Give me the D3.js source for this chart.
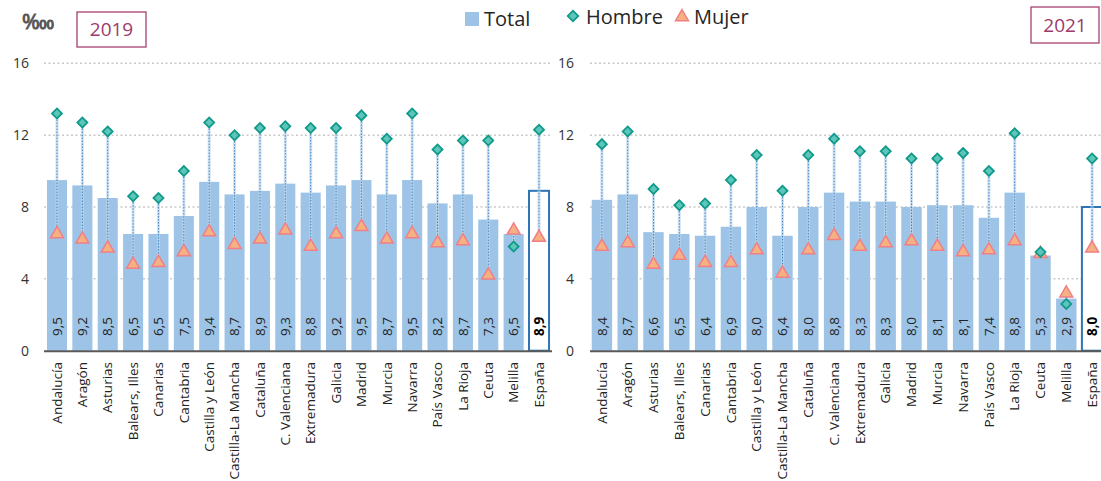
<!DOCTYPE html>
<html><head><meta charset="utf-8">
<script src="https://cdn.jsdelivr.net/npm/d3@7"></script>
<style>body{margin:0;background:#fff}svg{display:block;font-family:"Open Sans",sans-serif}</style>
</head><body>
<svg id="c" width="1101" height="481"></svg>
<script>
const categories = ["Andalucía","Aragón","Asturias","Balears, Illes","Canarias","Cantabria","Castilla y León","Castilla-La Mancha","Cataluña","C. Valenciana","Extremadura","Galicia","Madrid","Murcia","Navarra","País Vasco","La Rioja","Ceuta","Melilla","España"];
const total2019 = [9.5,9.2,8.5,6.5,6.5,7.5,9.4,8.7,8.9,9.3,8.8,9.2,9.5,8.7,9.5,8.2,8.7,7.3,6.5,8.9];
const hombre2019 = [13.2,12.7,12.2,8.6,8.5,10.0,12.7,12.0,12.4,12.5,12.4,12.4,13.1,11.8,13.2,11.2,11.7,11.7,5.8,12.3];
const mujer2019 = [6.5,6.2,5.7,4.8,4.9,5.5,6.6,5.9,6.2,6.7,5.8,6.5,6.9,6.2,6.5,6.0,6.1,4.2,6.7,6.3];
const total2021 = [8.4,8.7,6.6,6.5,6.4,6.9,8.0,6.4,8.0,8.8,8.3,8.3,8.0,8.1,8.1,7.4,8.8,5.3,2.9,8.0];
const hombre2021 = [11.5,12.2,9.0,8.1,8.2,9.5,10.9,8.9,10.9,11.8,11.1,11.1,10.7,10.7,11.0,10.0,12.1,5.5,2.6,10.7];
const mujer2021 = [5.8,6.0,4.8,5.3,4.9,4.9,5.6,4.3,5.6,6.4,5.8,6.0,6.1,5.8,5.5,5.6,6.1,5.4,3.2,5.7];
const yTicks = [0,4,8,12,16];
const years = ["2019","2021"];
const seriesNames = ["Total","Hombre","Mujer"];

const svg = d3.select("#c");
const BAR = "#9dc3e6", HOM_F = "#5cc6b8", HOM_S = "#0f9a8c", MUJ_F = "#f6b183", MUJ_S = "#f07f86";
const y = d3.scaleLinear().domain([0,16]).range([350.7,63.3]);

function panel(cfg){
  const x = d3.scaleBand().domain(categories).range(cfg.range).paddingInner(0.21).paddingOuter(0.105);
  const g = svg.append("g");
  g.selectAll(".grid").data(yTicks.filter(d=>d>0)).join("line")
    .attr("x1",cfg.gx[0]).attr("x2",cfg.gx[1]).attr("y1",d=>y(d)).attr("y2",d=>y(d))
    .attr("stroke","#c9c9c9").attr("stroke-width",1.5).attr("stroke-dasharray","2,2.5");
  const ax = d3.axisLeft(y).tickValues(yTicks).tickSize(0).tickPadding(0);
  const ag = g.append("g").attr("transform",`translate(${cfg.lx},0)`).call(ax);
  ag.select(".domain").remove();
  ag.selectAll("text").attr("font-size",14).attr("fill","#333").attr("font-family","Open Sans");
  const n = categories.length;
  g.selectAll(".bar").data(cfg.total).join("rect")
    .attr("x",(d,i)=>x(categories[i])).attr("width",x.bandwidth())
    .attr("y",d=>y(d)).attr("height",d=>y(0)-y(d))
    .attr("fill",(d,i)=>i===n-1?"#fff":BAR)
    .attr("stroke",(d,i)=>i===n-1?"#2e75b6":"none").attr("stroke-width",2);
  g.append("line").attr("x1",cfg.gx[0]).attr("x2",cfg.gx[1]).attr("y1",y(0)+0.5).attr("y2",y(0)+0.5)
    .attr("stroke","#595959").attr("stroke-width",2);
  const cx = i => x(categories[i]) + x.bandwidth()/2;
  g.selectAll(".dlh").data(cfg.hombre).join("line")
    .attr("x1",(d,i)=>cx(i)).attr("x2",(d,i)=>cx(i))
    .attr("y1",d=>y(d)).attr("y2",(d,i)=>y(cfg.mujer[i]))
    .attr("stroke","#bdd7ee").attr("stroke-width",3).attr("opacity",0.7);
  g.selectAll(".dl").data(cfg.hombre).join("line")
    .attr("x1",(d,i)=>cx(i)).attr("x2",(d,i)=>cx(i))
    .attr("y1",d=>y(d)).attr("y2",(d,i)=>y(cfg.mujer[i]))
    .attr("stroke","#2e75b6").attr("stroke-width",1).attr("stroke-dasharray","1.5,1.5").attr("opacity",0.85);
  g.selectAll(".vl").data(cfg.total).join("text")
    .attr("transform",(d,i)=>`translate(${cx(i)},336) rotate(-90)`)
    .attr("dy","0.35em").attr("font-size",13.5)
    .attr("font-weight",(d,i)=>i===n-1?"bold":"normal")
    .attr("fill",(d,i)=>i===n-1?"#000":"#222")
    .text(d=>d.toFixed(1).replace(".",","));
  g.selectAll(".mm").data(cfg.mujer).join("path")
    .attr("d",d3.symbol().type(d3.symbolTriangle).size(72)).attr("transform",(d,i)=>`translate(${cx(i)},${y(d)})`)
    .attr("fill",MUJ_F).attr("stroke",MUJ_S).attr("stroke-width",1.5);
  g.selectAll(".hm").data(cfg.hombre).join("path")
    .attr("d",d3.symbol().type(d3.symbolSquare).size(50)).attr("transform",(d,i)=>`translate(${cx(i)},${y(d)}) rotate(45)`)
    .attr("fill",HOM_F).attr("stroke",HOM_S).attr("stroke-width",1.8);
  g.selectAll(".cl").data(categories).join("text")
    .attr("transform",d=>`translate(${x(d)+x.bandwidth()/2},362) rotate(-90)`)
    .attr("dy","0.35em").attr("text-anchor","end").attr("font-size",13.5).attr("fill","#222")
    .text(d=>d);
  g.append("rect").attr("x",cfg.box[0]).attr("y",cfg.box[1]).attr("width",cfg.box[2]).attr("height",cfg.box[3])
    .attr("fill","#fff").attr("stroke","#a3416f").attr("stroke-width",1.3);
  g.append("text").attr("x",cfg.box[0]+cfg.box[2]/2).attr("y",cfg.box[1]+cfg.box[3]/2).attr("dy","0.35em")
    .attr("text-anchor","middle").attr("font-size",19).attr("fill","#9b3a6b").text(cfg.year);
}

panel({range:[44.3,551.7], gx:[44,552], lx:29, total:total2019, hombre:hombre2019, mujer:mujer2019, box:[77,12,69,35], year:years[0]});
panel({range:[589,1105], gx:[590,1101], lx:574, total:total2021, hombre:hombre2021, mujer:mujer2021, box:[1031,7,68,36], year:years[1]});

svg.append("text").attr("x",22).attr("y",29).attr("font-size",21).attr("font-weight","bold").attr("fill","#595959").text("‱");

const lg = svg.append("g");
lg.append("rect").attr("x",465).attr("y",12).attr("width",14).attr("height",14).attr("fill",BAR);
lg.append("text").attr("x",484).attr("y",26).attr("font-size",20).attr("fill","#262626").text(seriesNames[0]);
lg.append("path").attr("d",d3.symbol().type(d3.symbolSquare).size(55)).attr("transform","translate(573,16) rotate(45)")
  .attr("fill",HOM_F).attr("stroke",HOM_S).attr("stroke-width",1.8);
lg.append("text").attr("x",586).attr("y",24).attr("font-size",20).attr("fill","#262626").text(seriesNames[1]);
lg.append("path").attr("d",d3.symbol().type(d3.symbolTriangle).size(72)).attr("transform","translate(682,17)")
  .attr("fill",MUJ_F).attr("stroke",MUJ_S).attr("stroke-width",1.5);
lg.append("text").attr("x",694).attr("y",24).attr("font-size",20).attr("fill","#262626").text(seriesNames[2]);
</script>
</body></html>
